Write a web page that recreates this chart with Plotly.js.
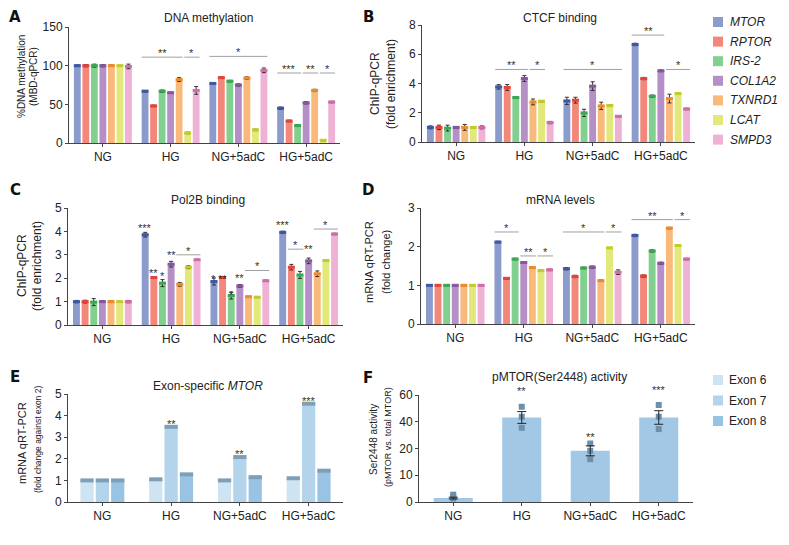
<!DOCTYPE html>
<html>
<head>
<meta charset="utf-8">
<script src="https://cdn.plot.ly/plotly-3.0.1.min.js"></script>
<style>
  html, body { margin: 0; padding: 0; background: #fff; }
  #chart { width: 789px; height: 545px; }
</style>
</head>
<body>
<div id="chart"></div>
<script>
// ---- data ----
const conditions = ['NG', 'HG', 'NG+5adC', 'HG+5adC'];
const genes = ['MTOR', 'RPTOR', 'IRS-2', 'COL1A2', 'TXNRD1', 'LCAT', 'SMPD3'];
const exons = ['Exon 6', 'Exon 7', 'Exon 8'];

// rows = condition, columns = gene
const methylationMean = [
  [100, 100, 100, 100, 100, 100, 99],
  [67, 48, 67, 65, 82, 13, 68],
  [77, 84.5, 80, 75, 84, 17, 94],
  [45, 28.5, 22.5, 52, 68, 3.5, 53]
];
const methylationErr = [
  [1, 1.5, 2, 1.5, 1, 0.5, 3],
  [1, 1, 1.5, 1, 2.5, 1, 5],
  [1, 1, 1, 1.5, 1.5, 1, 3],
  [1.5, 1, 1, 1.5, 1.5, 0.8, 1]
];
const ctcfMean = [
  [1.0, 1.0, 0.95, 1.0, 1.0, 1.0, 1.0],
  [3.77, 3.73, 3.04, 4.34, 2.74, 2.79, 1.33],
  [2.81, 2.86, 1.99, 3.82, 2.47, 2.49, 1.76],
  [6.67, 4.34, 3.13, 4.87, 2.97, 3.31, 2.26]
];
const ctcfErr = [
  [0.1, 0.15, 0.2, 0.05, 0.2, 0.03, 0.1],
  [0.15, 0.2, 0.03, 0.2, 0.2, 0.05, 0.08],
  [0.25, 0.2, 0.25, 0.3, 0.25, 0.05, 0.05],
  [0.08, 0.08, 0.08, 0.06, 0.3, 0.03, 0.05]
];
const pol2bMean = [
  [1.0, 1.0, 0.98, 1.0, 1.0, 1.0, 1.0],
  [3.86, 2.03, 1.79, 2.6, 1.74, 2.47, 2.79],
  [1.86, 2.03, 1.26, 1.67, 1.21, 1.19, 1.89],
  [3.96, 2.47, 2.14, 2.74, 2.19, 2.76, 3.89]
];
const pol2bErr = [
  [0.05, 0.06, 0.15, 0.04, 0.04, 0.02, 0.05],
  [0.1, 0.03, 0.15, 0.12, 0.08, 0.06, 0.02],
  [0.15, 0.04, 0.15, 0.06, 0.02, 0.02, 0.03],
  [0.05, 0.12, 0.15, 0.12, 0.12, 0.02, 0.03]
];
const mrnaMean = [
  [1.0, 1.0, 1.0, 1.0, 1.0, 1.0, 1.0],
  [2.12, 1.18, 1.68, 1.59, 1.46, 1.38, 1.4],
  [1.43, 1.23, 1.45, 1.47, 1.12, 1.97, 1.34],
  [2.29, 1.24, 1.89, 1.57, 2.48, 2.03, 1.68]
];
const mrnaErr = [
  [0.01, 0.01, 0.01, 0.01, 0.01, 0.01, 0.01],
  [0.02, 0.02, 0.02, 0.02, 0.02, 0.02, 0.02],
  [0.03, 0.03, 0.02, 0.03, 0.02, 0.01, 0.06],
  [0.03, 0.03, 0.03, 0.03, 0.02, 0.02, 0.02]
];
// rows = exon, columns = condition
const exonMean = [
  [1.0, 1.05, 1.0, 1.1],
  [1.0, 3.48, 2.08, 4.55],
  [1.0, 1.28, 1.15, 1.45]
];
const exonErr = [
  [0.03, 0.03, 0.03, 0.03],
  [0.03, 0.03, 0.03, 0.03],
  [0.03, 0.03, 0.03, 0.03]
];
// panel F, plotted on the figure's evenly spaced 0-10-20-40-60 axis
const pmtorMean = [2.2, 47.4, 28.7, 47.4];
const pmtorErr = [0.5, 3.3, 2.8, 3.8];
const pmtorPoints = [[4.1, 2.8, 1.9], [53.4, 47.8, 41.6], [32.8, 28.7, 24], [54.4, 47.8, 40.9]];

// significance: [condition, first bar, last bar, y, label] / [condition, bar, y, label]
const methylationSig = [[1, 0, 4, 111, '**'], [1, 5, 6, 111, '*'], [2, 0, 6, 112, '*'],
  [3, 0, 2, 90.5, '***'], [3, 3, 4, 90.5, '**'], [3, 5, 6, 90.5, '*']];
const ctcfSig = [[1, 0, 3, 4.96, '**'], [1, 4, 5, 4.96, '*'], [2, 0, 6, 4.96, '*'],
  [3, 0, 3, 7.31, '**'], [3, 4, 6, 4.96, '*']];
const pol2bSig = [[1, 4, 6, 3.0, '*'], [2, 4, 6, 2.33, '*'], [3, 1, 2, 3.24, '*'], [3, 4, 6, 4.1, '*']];
const pol2bStars = [[1, 0, 4.29, '***'], [1, 1, 2.36, '**'], [1, 2, 2.24, '*'], [1, 3, 3.1, '**'],
  [2, 0, 2.1, '*'], [2, 1, 2.1, '**'], [2, 2, 1.43, '*'], [2, 3, 2.14, '**'],
  [3, 0, 4.39, '***'], [3, 3, 3.36, '**']];
const mrnaSig = [[1, 0, 2, 2.38, '*'], [1, 3, 4, 1.76, '**'], [1, 5, 6, 1.76, '*'],
  [2, 0, 4, 2.38, '*'], [2, 5, 6, 2.38, '*'], [3, 0, 4, 2.7, '**'], [3, 5, 6, 2.7, '*']];
const exonStars = [[1, 1, 3.75, '**'], [2, 1, 2.37, '**'], [3, 1, 4.83, '***']];
const pmtorStars = [[1, 63.7, '**'], [2, 38, '**'], [3, 64.7, '***']];

// ---- styling ----
const geneColors = ['#8a9bcc', '#f3877a', '#82d090', '#b590c6', '#f9b97a', '#e2e87a', '#efb1d4'];
const geneDark = ['#3e58a8', '#e2443a', '#3aa852', '#8656a0', '#f0892a', '#c2cc2a', '#d06ba6'];
const exonColors = ['#cfe4f2', '#b3d4ea', '#98c3e2'];
const FONT = 'Liberation Sans, Arial, Helvetica, sans-serif';

const W = 789, H = 545;
const fx = x => x / W;
const fy = y => 1 - y / H;

const traces = [];
const shapes = [];
const annotations = [];
const layout = {
  width: W, height: H,
  margin: {l: 0, r: 0, t: 0, b: 0},
  paper_bgcolor: '#fff', plot_bgcolor: 'rgba(0,0,0,0)',
  font: {family: FONT, size: 12, color: '#222'},
  showlegend: false,
  barmode: 'overlay'
};

// bar geometry in category units
function slot(n, gw) { return gw / n; }
function barCenter(g, i, n, gw) { return g - gw / 2 + slot(n, gw) * (i + 0.5); }
function barLeft(g, i, n, gw, fill) { return barCenter(g, i, n, gw) - slot(n, gw) * fill / 2; }
function barRight(g, i, n, gw, fill) { return barCenter(g, i, n, gw) + slot(n, gw) * fill / 2; }

function axisNames(k) {
  const s = k === 1 ? '' : String(k);
  return {xa: 'x' + s, ya: 'y' + s, xk: 'xaxis' + s, yk: 'yaxis' + s};
}

function setAxes(k, box, yrange, tickvals, ticktext) {
  const a = axisNames(k);
  const common = {
    showline: true, linecolor: '#444', linewidth: 1,
    ticks: 'outside', ticklen: 3, tickcolor: '#444',
    showgrid: false, zeroline: false, fixedrange: true,
    tickfont: {size: 12, color: '#222'}
  };
  layout[a.xk] = Object.assign({}, common, {
    domain: [fx(box[0]), fx(box[1])], anchor: a.ya,
    range: [-0.5, 3.5], tickvals: [0, 1, 2, 3], ticktext: conditions
  });
  layout[a.yk] = Object.assign({}, common, {
    domain: [fy(box[3]), fy(box[2])], anchor: a.xa,
    range: yrange, tickvals: tickvals, ticktext: ticktext || tickvals.map(String)
  });
}

function label(text, x, y, size, opts) {
  annotations.push(Object.assign({
    xref: 'paper', yref: 'paper', x: fx(x), y: fy(y), text: text,
    showarrow: false, xanchor: 'center', yanchor: 'middle',
    font: {size: size, color: '#222'}
  }, opts || {}));
}

const GW = 0.88, FILL = 0.8;

function genePanel(k, mean, err, sig, stars) {
  const a = axisNames(k);
  genes.forEach((name, i) => {
    const ys = mean.map(r => r[i]);
    const es = err.map(r => r[i]);
    traces.push({
      type: 'bar', x: [0, 1, 2, 3], y: ys, xaxis: a.xa, yaxis: a.ya,
      width: slot(7, GW) * FILL, offset: -GW / 2 + slot(7, GW) * (i + (1 - FILL) / 2),
      marker: {color: geneColors[i], line: {width: 0}}, hoverinfo: 'skip'
    });
    traces.push({
      type: 'scatter', mode: 'markers', xaxis: a.xa, yaxis: a.ya,
      x: [0, 1, 2, 3].map(g => barCenter(g, i, 7, GW)), y: ys,
      marker: {symbol: 'line-ew', size: 5, line: {width: 3, color: geneDark[i]}},
      error_y: {type: 'data', array: es, visible: true, color: '#333', thickness: 1, width: 2},
      cliponaxis: false, hoverinfo: 'skip'
    });
  });
  sig.forEach(([g, b0, b1, y, txt]) => {
    const x0 = barLeft(g, b0, 7, GW, FILL), x1 = barRight(g, b1, 7, GW, FILL);
    shapes.push({type: 'line', xref: a.xa, yref: a.ya, x0: x0, x1: x1, y0: y, y1: y,
      line: {color: '#a0a0a0', width: 1}});
    annotations.push({xref: a.xa, yref: a.ya, x: (x0 + x1) / 2, y: y, text: txt, showarrow: false,
      yanchor: 'middle', yshift: 4, font: {size: 11, color: '#333'}});
  });
  (stars || []).forEach(([g, b, y, txt]) => {
    annotations.push({xref: a.xa, yref: a.ya, x: barCenter(g, b, 7, GW), y: y, text: txt,
      showarrow: false, yanchor: 'middle', yshift: -3, font: {size: 11, color: '#333'}});
  });
}

// ---- panels A-D ----
setAxes(1, [69, 340, 27, 143], [0, 150], [0, 50, 100, 150]);
genePanel(1, methylationMean, methylationErr, methylationSig);
setAxes(2, [422, 695, 25, 142], [0, 8], [0, 2, 4, 6, 8]);
genePanel(2, ctcfMean, ctcfErr, ctcfSig);
setAxes(3, [68, 343, 208, 325], [0, 5], [0, 1, 2, 3, 4, 5]);
genePanel(3, pol2bMean, pol2bErr, pol2bSig, pol2bStars);
setAxes(4, [421, 695, 208, 324], [0, 3], [0, 1, 2, 3]);
genePanel(4, mrnaMean, mrnaErr, mrnaSig);

// ---- panel E ----
const EW = 0.67, EFILL = 0.86;
setAxes(5, [68, 343, 394, 502], [0, 5], [0, 1, 2, 3, 4, 5]);
exons.forEach((name, i) => {
  traces.push({
    type: 'bar', x: [0, 1, 2, 3], y: exonMean[i], xaxis: 'x5', yaxis: 'y5',
    width: slot(3, EW) * EFILL, offset: -EW / 2 + slot(3, EW) * (i + (1 - EFILL) / 2),
    marker: {color: exonColors[i], line: {width: 0}}, hoverinfo: 'skip'
  });
  traces.push({
    type: 'scatter', mode: 'markers', xaxis: 'x5', yaxis: 'y5',
    x: [0, 1, 2, 3].map(g => barCenter(g, i, 3, EW)), y: exonMean[i],
    marker: {symbol: 'line-ew', size: 9.5, line: {width: 4, color: '#7e9fb7'}},
    error_y: {type: 'data', array: exonErr[i], visible: true, color: '#111', thickness: 1, width: 4},
    cliponaxis: false, hoverinfo: 'skip'
  });
});
exonStars.forEach(([g, b, y, txt]) => {
  annotations.push({xref: 'x5', yref: 'y5', x: barCenter(g, b, 3, EW), y: y, text: txt,
    showarrow: false, yanchor: 'middle', yshift: -3, font: {size: 11, color: '#333'}});
});

// ---- panel F ----
const F_TOP = 60, F_PX_PER_UNIT = 107 / 60;
setAxes(6, [419, 693, 395, 502], [0, F_TOP], [0, 15, 30, 45, 60], ['0', '10', '20', '40', '60']);
traces.push({
  type: 'bar', x: [0, 1, 2, 3], y: pmtorMean, xaxis: 'x6', yaxis: 'y6', width: 0.57,
  marker: {color: '#a2c8e5', line: {width: 0}}, hoverinfo: 'skip'
});
traces.push({
  type: 'scatter', mode: 'markers', xaxis: 'x6', yaxis: 'y6',
  x: pmtorPoints.flatMap((p, g) => p.map(() => g)), y: pmtorPoints.flat(),
  marker: {symbol: 'square', size: 6, color: '#6d8fab'}, cliponaxis: false, hoverinfo: 'skip'
});
traces.push({
  type: 'scatter', mode: 'markers', xaxis: 'x6', yaxis: 'y6', x: [0, 1, 2, 3], y: pmtorMean,
  marker: {size: 1, color: 'rgba(0,0,0,0)'},
  error_y: {type: 'data', array: pmtorErr, visible: true, color: '#222', thickness: 1, width: 4.5},
  cliponaxis: false, hoverinfo: 'skip'
});
pmtorStars.forEach(([g, y, txt]) => {
  // annotations above the axis range are hidden, so pin them to the top and shift in pixels
  const yy = Math.min(y, F_TOP);
  annotations.push({xref: 'x6', yref: 'y6', x: g, y: yy, text: txt, showarrow: false,
    yanchor: 'middle', yshift: (y - yy) * F_PX_PER_UNIT - 3, font: {size: 11, color: '#333'}});
});

// ---- titles, axis titles, panel letters ----
label('DNA methylation', 208, 18, 12);
label('CTCF binding', 560, 18, 12);
label('Pol2B binding', 208, 200, 12);
label('mRNA levels', 560, 200, 12);
label('Exon-specific <i>MTOR</i>', 208, 386, 12);
label('pMTOR(Ser2448) activity', 559, 377, 12);

const yTitles = [
  ['%DNA methylation', 22, 77, 10], ['(MBD-qPCR)', 34, 77, 10],
  ['ChIP-qPCR', 375, 84, 12], ['(fold enrichment)', 391, 84, 12],
  ['ChIP-qPCR', 22, 266, 12], ['(fold enrichment)', 37, 266, 12],
  ['mRNA qRT-PCR', 369, 262, 11], ['(fold change)', 386, 262, 11],
  ['mRNA qRT-PCR', 22, 443, 11], ['(fold change against exon 2)', 38, 440, 8.5],
  ['Ser2448 activity', 373, 440, 10], ['(pMTOR vs. total MTOR)', 388, 437, 9]
];
yTitles.forEach(([t, x, y, s]) => label(t, x, y, s, {textangle: -90}));

[['A', 15, 17], ['B', 368, 17], ['C', 15, 190], ['D', 368, 190], ['E', 15, 377], ['F', 368, 378]]
  .forEach(([t, x, y]) => label('<b>' + t + '</b>', x, y, 15, {font: {size: 15, color: '#111', family: 'DejaVu Sans, ' + FONT}}));

// ---- legends ----
genes.forEach((name, i) => {
  const y = 22 + i * 19.6;
  shapes.push({type: 'rect', xref: 'paper', yref: 'paper', x0: fx(713), x1: fx(723), y0: fy(y + 5), y1: fy(y - 5),
    fillcolor: geneColors[i], line: {width: 0}});
  label('<i>' + name + '</i>', 728, y, 12, {xanchor: 'left'});
});
exons.forEach((name, i) => {
  const y = 380 + i * 20.5;
  shapes.push({type: 'rect', xref: 'paper', yref: 'paper', x0: fx(713), x1: fx(723), y0: fy(y + 5), y1: fy(y - 5),
    fillcolor: exonColors[i], line: {width: 0}});
  label(name, 727, y, 12, {xanchor: 'left'});
});

layout.shapes = shapes;
layout.annotations = annotations;

Plotly.newPlot('chart', traces, layout, {displayModeBar: false, staticPlot: true});
</script>
</body>
</html>
